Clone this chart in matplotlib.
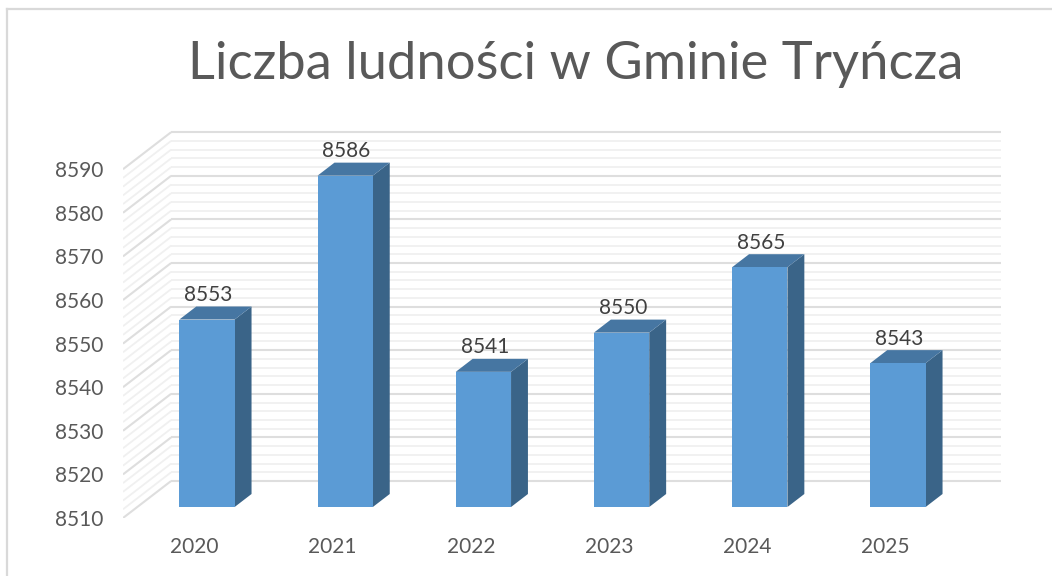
import matplotlib
matplotlib.use('Agg')
import matplotlib.pyplot as plt
from matplotlib.lines import Line2D
from matplotlib.patches import Polygon
import numpy as np

years = ['2020', '2021', '2022', '2023', '2024', '2025']
ludnosc = [8553, 8586, 8541, 8550, 8565, 8543]
y_ticks = [8510, 8520, 8530, 8540, 8550, 8560, 8570, 8580, 8590]
title = 'Liczba ludności w Gminie Tryńcza'

W, H = 1052, 576
DPI = 100
FONT = 'Lato'

# pixel layout of the fake 3d box
X0_PX = 207.0     # centre of first bar
X_STEP = 138.2    # px per category
Y0_PX = 507.0     # baseline of bars
Y_STEP = 4.36     # px per unit
BAR_W = 0.40      # in categories
SLANT = 1.3       # x shift per y shift
BAR_D = 13        # bar depth, px
WALL_FRONT = -11  # depth of front edge of the wall, px
WALL_BACK = 26    # depth of the back wall, px
LEFT_PX, RIGHT_PX, TOP_PX = 123, 1001, 120


def proj(x, v, d):
    # oblique projection: depth d in px moves up and to the right
    return x + SLANT * d / X_STEP, v + d / Y_STEP


def main():
    fig = plt.figure(figsize=(W / DPI, H / DPI), dpi=DPI)
    bottom_px = Y0_PX - WALL_FRONT
    ax = fig.add_axes([LEFT_PX / W, 1 - bottom_px / H,
                       (RIGHT_PX - LEFT_PX) / W, (bottom_px - TOP_PX) / H])
    ax.set_xlim((LEFT_PX - X0_PX) / X_STEP, (RIGHT_PX - X0_PX) / X_STEP)
    ymin = y_ticks[0] + WALL_FRONT / Y_STEP
    ax.set_ylim(ymin, ymin + (bottom_px - TOP_PX) / Y_STEP)
    ax.patch.set_visible(False)
    for s in ax.spines.values():
        s.set_visible(False)

    # walls: minor every 2, major every 10
    right = ax.get_xlim()[1]
    x_wall = ax.get_xlim()[0] - SLANT * WALL_FRONT / X_STEP
    for v in np.arange(y_ticks[0], y_ticks[-1] + 1, 2):
        major = v in y_ticks
        c = '#dedede' if major else '#f0f0f0'
        lw = 1.5 if major else 1.3
        bx, by = proj(x_wall, v, WALL_BACK)
        ax.plot([bx, right], [by, by], color=c, lw=lw, zorder=1,
                solid_capstyle='butt')
        fx, fy = proj(x_wall, v, WALL_FRONT)
        ax.plot([fx, bx], [fy, by], color=c, lw=lw, zorder=1,
                solid_capstyle='butt')

    # bars
    for i, v in enumerate(ludnosc):
        l, r = i - BAR_W / 2, i + BAR_W / 2
        base = y_ticks[0]
        ax.add_patch(Polygon([proj(r, base, 0), proj(r, base, BAR_D),
                              proj(r, v, BAR_D), proj(r, v, 0)],
                             fc='#3a6488', ec='none', zorder=3))
        ax.add_patch(Polygon([proj(l, v, 0), proj(l, v, BAR_D),
                              proj(r, v, BAR_D), proj(r, v, 0)],
                             fc='#4676a2', ec='none', zorder=3))
        ax.add_patch(Polygon([(l, base), (r, base), (r, v), (l, v)],
                             fc='#5b9bd5', ec='none', zorder=4))
        ly = proj(i, v, BAR_D)[1]
        ax.annotate(str(v), (i + 0.01, ly), xytext=(0, 1),
                    textcoords='offset points', ha='center', va='bottom',
                    fontsize=15, family=FONT, color='#404040', zorder=5)

    # axis labels sit on the front plane
    ax.set_xticks([proj(i, 0, WALL_FRONT)[0] + 0.012 for i in range(len(years))], years)
    ax.set_yticks([proj(0, v, WALL_FRONT)[1] for v in y_ticks],
                  [str(v) for v in y_ticks])
    ax.tick_params(axis='x', length=0, pad=14, labelsize=15, labelcolor='#595959')
    ax.tick_params(axis='y', length=0, pad=14, labelsize=15, labelcolor='#595959')
    for t in ax.get_xticklabels() + ax.get_yticklabels():
        t.set_family(FONT)

    fig.text(576 / W, 1 - 64 / H, title, ha='center', va='center',
             fontsize=37.8, family=FONT, color='#595959')

    # chart frame, cut off at the right and bottom
    for xs, ys in [([7, 7], [9, H]), ([7, W], [9, 9])]:
        fig.add_artist(Line2D([x / W for x in xs], [1 - y / H for y in ys],
                              color='#d9d9d9', lw=1.6))

    fig.savefig('out.png', dpi=DPI, facecolor='white')


if __name__ == '__main__':
    main()
